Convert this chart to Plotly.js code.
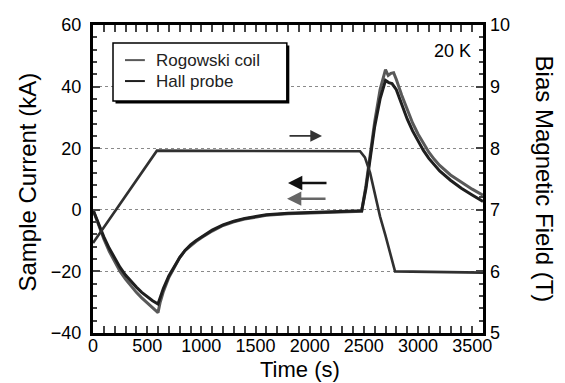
<!DOCTYPE html>
<html>
<head>
<meta charset="utf-8">
<script src="https://cdn.plot.ly/plotly-3.0.1.min.js"></script>
<style>html,body{margin:0;padding:0;background:#fff}#chart{width:565px;height:383px}</style>
</head>
<body>
<div id="chart"></div>
<script>
// Sample current, Rogowski coil (kA)
const timeRogowski = [0, 50, 100, 150, 200, 250, 300, 350, 400, 450, 500, 550, 600, 620, 650, 700, 750, 800, 850, 900, 950, 1000, 1100, 1200, 1300, 1400, 1500, 1600, 1800, 2000, 2200, 2400, 2480, 2520, 2560, 2600, 2650, 2700, 2725, 2750, 2775, 2800, 2850, 2900, 2950, 3000, 3050, 3100, 3150, 3200, 3300, 3400, 3500, 3600];
const currentRogowski = [0, -5, -9.5, -13.5, -17, -20, -22.5, -24.8, -26.8, -28.6, -30.3, -31.9, -33.4, -30, -26.5, -22, -18.5, -15.5, -13.2, -11.6, -10.3, -9.1, -6.9, -5.1, -3.9, -3.0, -2.3, -1.8, -1.3, -1.0, -0.8, -0.6, -0.5, 8, 19, 28.5, 39, 45.5, 43.6, 44.3, 44.5, 42.3, 37.2, 32.4, 28.2, 24.6, 21.4, 18.7, 16.4, 14.4, 11.3, 8.9, 6.7, 4.7];
// Sample current, Hall probe (kA)
const timeHall = [0, 50, 100, 150, 200, 250, 300, 350, 400, 450, 500, 550, 600, 620, 650, 700, 750, 800, 850, 900, 950, 1000, 1100, 1200, 1300, 1400, 1500, 1600, 1800, 2000, 2200, 2400, 2480, 2520, 2560, 2600, 2650, 2700, 2730, 2760, 2800, 2850, 2900, 2950, 3000, 3050, 3100, 3150, 3200, 3300, 3400, 3500, 3600];
const currentHall = [0, -4.6, -8.8, -12.5, -15.8, -18.7, -21.2, -23.3, -25.1, -26.8, -28.3, -29.5, -30.6, -28.5, -25.5, -21.5, -18.3, -15.5, -13.2, -11.4, -10, -8.8, -6.6, -4.9, -3.7, -2.8, -2.1, -1.6, -1.1, -0.8, -0.6, -0.4, -0.3, 7, 17.5, 27, 36, 42, 41.3, 41, 39, 34, 29.5, 25.6, 22.2, 19.3, 16.7, 14.5, 12.6, 9.6, 7.0, 4.8, 2.7];
// Bias magnetic field (T)
const timeField = [0, 590, 2465, 2510, 2558, 2600, 2650, 2700, 2788, 3600];
const biasField = [6.46, 7.96, 7.95, 7.85, 7.6, 7.27, 6.89, 6.58, 6.0, 5.98];

const seriesNames = ['Rogowski coil', 'Hall probe'];
const seriesColors = ['#595959', '#1e1e1e'];
const xTickVals = [0, 500, 1000, 1500, 2000, 2500, 3000, 3500];
const yTickVals = [-40, -20, 0, 20, 40, 60];
const y2TickVals = [5, 6, 7, 8, 9, 10];

const FONT = 'Liberation Sans, Arial, sans-serif';

const traces = [
  {x: timeRogowski, y: currentRogowski, name: seriesNames[0], type: 'scatter', mode: 'lines',
   line: {color: seriesColors[0], width: 3}},
  {x: timeHall, y: currentHall, name: seriesNames[1], type: 'scatter', mode: 'lines',
   line: {color: seriesColors[1], width: 3}},
  {x: timeField, y: biasField, name: 'Bias field', yaxis: 'y2', type: 'scatter', mode: 'lines',
   line: {color: '#303030', width: 2.6}}
];

// manual legend box (paper coords)
const LX0 = 0.0513, LX1 = 0.497, LY0 = 0.753, LY1 = 0.9416;
const sx = 2.5 / 390, sy = 2.5 / 308;
const legendRows = [0.886, 0.818];
const shapes = [
  {type: 'rect', xref: 'paper', yref: 'paper', x0: LX0 + sx, x1: LX1 + sx, y0: LY0 - sy, y1: LY1 - sy,
   fillcolor: '#000', line: {width: 0}, layer: 'above'},
  {type: 'rect', xref: 'paper', yref: 'paper', x0: LX0, x1: LX1, y0: LY0, y1: LY1,
   fillcolor: '#fff', line: {color: '#000', width: 1.5}, layer: 'above'}
];
const annotations = [];
seriesNames.forEach((n, i) => {
  shapes.push({type: 'line', xref: 'paper', yref: 'paper', x0: 0.082, x1: 0.133, y0: legendRows[i], y1: legendRows[i],
    line: {color: seriesColors[i], width: 2}, layer: 'above'});
  annotations.push({text: n, xref: 'paper', yref: 'paper', x: 0.156, y: legendRows[i], xanchor: 'left', yanchor: 'middle',
    showarrow: false, font: {size: 17, family: FONT, color: '#222'}});
});

annotations.push(
  {text: 'Time (s)', xref: 'paper', yref: 'paper', x: 0.53, y: -0.1625, xanchor: 'center', yanchor: 'bottom',
   borderpad: 0, showarrow: false, font: {size: 22, family: FONT}},
  {text: 'Sample Current (kA)', xref: 'paper', yref: 'paper', x: -0.168, y: 0.49, xanchor: 'center', yanchor: 'middle',
   textangle: -90, showarrow: false, font: {size: 24, family: FONT}},
  {text: 'Bias Magnetic Field (T)', xref: 'paper', yref: 'paper', x: 1.16, y: 0.5, xanchor: 'center', yanchor: 'middle',
   textangle: 90, showarrow: false, font: {size: 24, family: FONT}},
  {text: '20 K', xref: 'paper', yref: 'paper', x: 0.975, y: 0.915, xanchor: 'right', yanchor: 'middle',
   showarrow: false, font: {size: 18, family: FONT}},
  {x: 2114, y: 24, xref: 'x', yref: 'y', ax: -34, ay: 0, text: '', showarrow: true,
   arrowhead: 2, arrowsize: 1.3, arrowwidth: 1.8, arrowcolor: '#333'},
  {x: 1800, y: 8.7, xref: 'x', yref: 'y', ax: 40, ay: 0, text: '', showarrow: true,
   arrowhead: 2, arrowsize: 1.1, arrowwidth: 2.6, arrowcolor: '#111'},
  {x: 1791, y: 3.6, xref: 'x', yref: 'y', ax: 40, ay: 0, text: '', showarrow: true,
   arrowhead: 2, arrowsize: 1.1, arrowwidth: 2.6, arrowcolor: '#666'}
);

const layout = {
  width: 565, height: 383,
  margin: {l: 93, r: 82, t: 25, b: 50},
  paper_bgcolor: '#fff', plot_bgcolor: '#fff',
  font: {family: FONT, color: '#000'},
  showlegend: false,
  xaxis: {range: [0, 3600], tickvals: xTickVals, ticks: 'inside', ticklen: 7, tickwidth: 2,
    showline: true, linewidth: 3, linecolor: '#000', mirror: 'allticks', showgrid: false, zeroline: false,
    tickfont: {size: 18, family: FONT}, ticklabelstandoff: -6,
    minor: {dtick: 100, ticks: 'inside', ticklen: 4, tickwidth: 2, showgrid: false}},
  yaxis: {range: [-40, 60], tickvals: yTickVals, ticks: 'inside', ticklen: 7, tickwidth: 2,
    showline: true, linewidth: 3, linecolor: '#000', mirror: 'allticks', zeroline: false,
    showgrid: true, gridcolor: '#8a8a8a', griddash: 'dot', gridwidth: 1,
    tickfont: {size: 18, family: FONT}, ticklabelstandoff: 5,
    minor: {dtick: 4, ticks: 'inside', ticklen: 4, tickwidth: 2, showgrid: false}},
  yaxis2: {range: [5, 10], tickvals: y2TickVals, overlaying: 'y', side: 'right', ticks: '',
    showline: false, showgrid: false, zeroline: false,
    tickfont: {size: 18, family: FONT}, ticklabelstandoff: 6},
  shapes: shapes,
  annotations: annotations
};

Plotly.newPlot('chart', traces, layout, {displayModeBar: false, staticPlot: true});
</script>
</body>
</html>
